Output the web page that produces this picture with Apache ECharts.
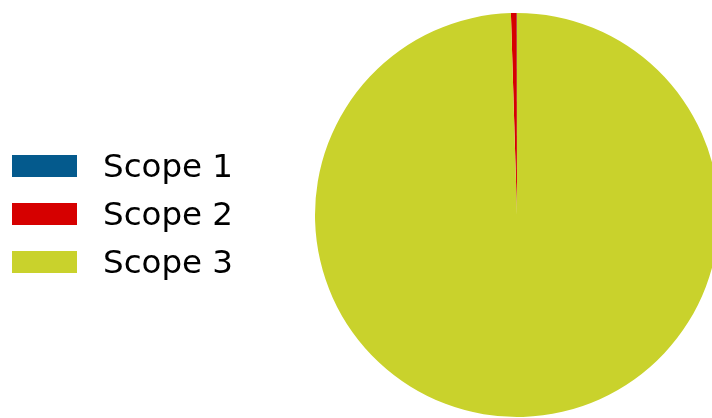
<!DOCTYPE html>
<html>
<head>
<meta charset="utf-8">
<script src="https://cdn.jsdelivr.net/npm/echarts@6/dist/echarts.min.js"></script>
<style>
  html, body { margin: 0; padding: 0; background: #fff; }
  #chart { width: 712px; height: 418px; }
</style>
</head>
<body>
<div id="chart"></div>
<script>
// emissions share by scope
const scopes = ['Scope 1', 'Scope 2', 'Scope 3'];
const shares = [0.03, 0.45, 99.52];
const colours = ['#045a8d', '#d60000', '#c9d22c'];

let myChart = echarts.init(document.getElementById('chart'));

let option = {
  animation: false,
  color: colours,
  legend: {
    orient: 'vertical',
    left: 12,
    top: 147,
    padding: 0,
    icon: 'rect',
    itemWidth: 65,
    itemHeight: 22,
    itemGap: 10,
    formatter: '{t|{name}}',
    textStyle: {
      fontFamily: 'DejaVu Sans',
      fontSize: 32.5,
      lineHeight: 32,
      color: '#000',
      padding: [0, 0, 0, 21],
      rich: {
        t: {
          fontFamily: 'DejaVu Sans',
          fontSize: 32.5,
          lineHeight: 38,
          verticalAlign: 'bottom',
          color: '#000'
        }
      }
    },
    data: scopes
  },
  series: [{
    type: 'pie',
    center: [517, 215],
    radius: [0, 202],
    startAngle: 90,
    clockwise: false,
    minAngle: 0,
    label: { show: false },
    labelLine: { show: false },
    emphasis: { disabled: true },
    itemStyle: { borderWidth: 0 },
    data: scopes.map((name, i) => ({ name: name, value: shares[i] }))
  }]
};

myChart.setOption(option);
window.addEventListener('resize', function () {
  myChart.resize();
}, false);
</script>
</body>
</html>
